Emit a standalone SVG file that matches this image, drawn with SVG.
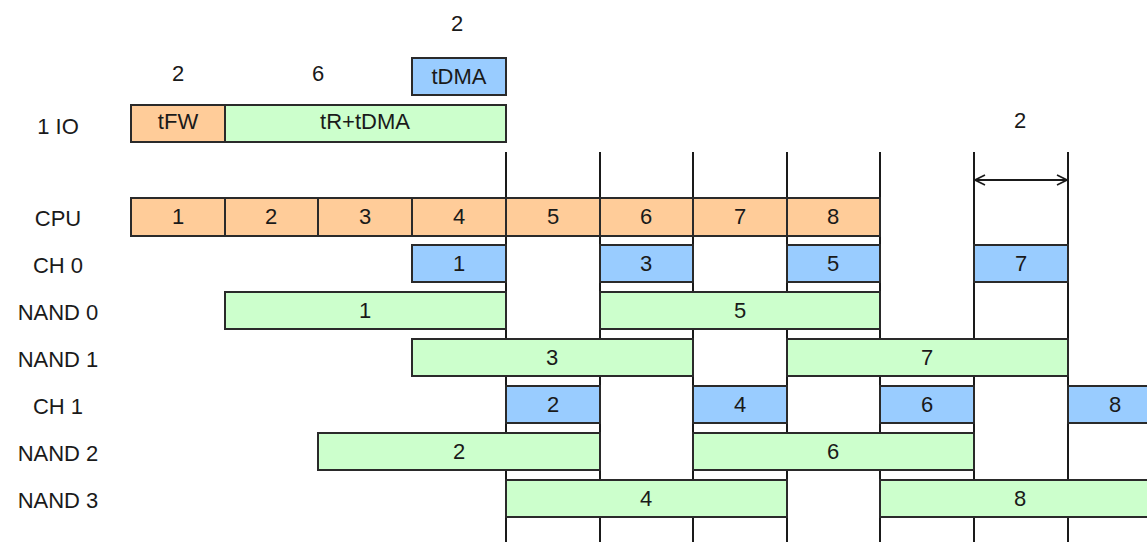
<svg xmlns="http://www.w3.org/2000/svg" width="1147" height="542" viewBox="0 0 1147 542">
<style>
text{font-family:"Liberation Sans",Arial,sans-serif;font-size:22px;fill:#1a1a1a;text-anchor:middle}
.o{fill:#FFCC99;stroke:#2a2a2a;stroke-width:2}
.b{fill:#99CCFF;stroke:#2a2a2a;stroke-width:2}
.g{fill:#CCFFCC;stroke:#2a2a2a;stroke-width:2}
.v{stroke:#1a1a1a;stroke-width:2;fill:none}
</style>
<defs>
<marker id="ah" viewBox="0 0 12 12" refX="11" refY="6" markerWidth="12" markerHeight="12" markerUnits="userSpaceOnUse" orient="auto-start-reverse">
<path d="M1,1 L11,6 L1,11" fill="none" stroke="#1a1a1a" stroke-width="1.6"/>
</marker>
</defs>
<g id="connectors">
<line class="v" x1="506" y1="152" x2="506" y2="542"/>
<line class="v" x1="600" y1="152" x2="600" y2="542"/>
<line class="v" x1="693" y1="152" x2="693" y2="542"/>
<line class="v" x1="787" y1="152" x2="787" y2="542"/>
<line class="v" x1="880" y1="152" x2="880" y2="542"/>
<line class="v" x1="974" y1="152" x2="974" y2="542"/>
<line class="v" x1="1068" y1="152" x2="1068" y2="542"/>
<line class="v" x1="975" y1="180" x2="1067" y2="180" marker-start="url(#ah)" marker-end="url(#ah)"/>
</g>
<g id="labels">
<text x="457" y="31">2</text>
<text x="178" y="81">2</text>
<text x="318" y="81">6</text>
<text x="1020" y="128">2</text>
<text x="58" y="134">1 IO</text>
<text x="58" y="226">CPU</text>
<text x="58" y="273">CH 0</text>
<text x="58" y="320">NAND 0</text>
<text x="58" y="367">NAND 1</text>
<text x="58" y="414">CH 1</text>
<text x="58" y="461">NAND 2</text>
<text x="58" y="508">NAND 3</text>
</g>
<g id="tdma"><rect class="b" x="412" y="58" width="94" height="37"/><text x="459" y="84">tDMA</text></g>
<g id="io-tfw"><rect class="o" x="131" y="105" width="94" height="37"/><text x="178" y="129">tFW</text></g>
<g id="io-tr"><rect class="g" x="225" y="105" width="281" height="37"/><text x="365" y="129">tR+tDMA</text></g>
<g id="cpu">
<rect class="o" x="131" y="198" width="94" height="38"/><text x="178" y="224">1</text>
<rect class="o" x="225" y="198" width="93" height="38"/><text x="271" y="224">2</text>
<rect class="o" x="318" y="198" width="94" height="38"/><text x="365" y="224">3</text>
<rect class="o" x="412" y="198" width="94" height="38"/><text x="459" y="224">4</text>
<rect class="o" x="506" y="198" width="94" height="38"/><text x="553" y="224">5</text>
<rect class="o" x="600" y="198" width="93" height="38"/><text x="646" y="224">6</text>
<rect class="o" x="693" y="198" width="94" height="38"/><text x="740" y="224">7</text>
<rect class="o" x="787" y="198" width="93" height="38"/><text x="833" y="224">8</text>
</g>
<g id="ch0">
<rect class="b" x="412" y="245" width="94" height="37"/><text x="459" y="271">1</text>
<rect class="b" x="600" y="245" width="93" height="37"/><text x="646" y="271">3</text>
<rect class="b" x="787" y="245" width="93" height="37"/><text x="833" y="271">5</text>
<rect class="b" x="974" y="245" width="94" height="37"/><text x="1021" y="271">7</text>
</g>
<g id="nand0">
<rect class="g" x="225" y="292" width="281" height="37"/><text x="365" y="318">1</text>
<rect class="g" x="600" y="292" width="280" height="37"/><text x="740" y="318">5</text>
</g>
<g id="nand1">
<rect class="g" x="412" y="339" width="281" height="37"/><text x="552" y="365">3</text>
<rect class="g" x="787" y="339" width="281" height="37"/><text x="927" y="365">7</text>
</g>
<g id="ch1">
<rect class="b" x="506" y="386" width="94" height="37"/><text x="553" y="412">2</text>
<rect class="b" x="693" y="386" width="94" height="37"/><text x="740" y="412">4</text>
<rect class="b" x="880" y="386" width="94" height="37"/><text x="927" y="412">6</text>
<rect class="b" x="1068" y="386" width="94" height="37"/><text x="1115" y="412">8</text>
</g>
<g id="nand2">
<rect class="g" x="318" y="433" width="282" height="37"/><text x="459" y="459">2</text>
<rect class="g" x="693" y="433" width="281" height="37"/><text x="833" y="459">6</text>
</g>
<g id="nand3">
<rect class="g" x="506" y="480" width="281" height="37"/><text x="646" y="506">4</text>
<rect class="g" x="880" y="480" width="282" height="37"/><text x="1020" y="506">8</text>
</g>
</svg>
